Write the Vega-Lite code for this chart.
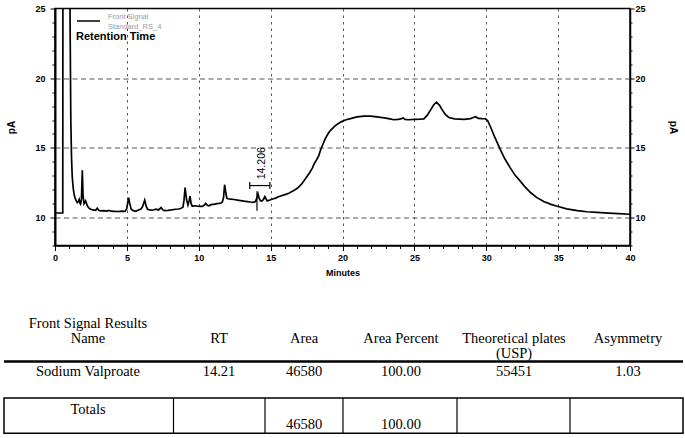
{
  "$schema": "https://vega.github.io/schema/vega-lite/v6.json",
  "autosize": {"type": "pad"},
  "padding": {"left": 2, "top": 3.5, "right": 0, "bottom": 0},
  "background": "white",
  "bounds": "flush",
  "spacing": 55,
  "config": {"view": {"stroke": null}, "font": "Liberation Sans"},
  "datasets": {
    "trace": [
      {"t": 0, "v": 10.33}, {"t": 0.54, "v": 10.33}, {"t": 0.56, "v": 40}, {"t": 0.98, "v": 40}, {"t": 1.05, "v": 24},
      {"t": 1.1, "v": 17}, {"t": 1.15, "v": 14.3}, {"t": 1.2, "v": 12.9}, {"t": 1.27, "v": 12.1}, {"t": 1.32, "v": 11.7},
      {"t": 1.4, "v": 11.4}, {"t": 1.48, "v": 11.2}, {"t": 1.55, "v": 11.08}, {"t": 1.62, "v": 11.15}, {"t": 1.68, "v": 11.3},
      {"t": 1.73, "v": 11.05}, {"t": 1.78, "v": 10.97}, {"t": 1.84, "v": 11.3}, {"t": 1.9, "v": 13.4}, {"t": 1.95, "v": 11.6},
      {"t": 2.02, "v": 11.0}, {"t": 2.08, "v": 11.1}, {"t": 2.13, "v": 11.2}, {"t": 2.2, "v": 11.0}, {"t": 2.25, "v": 10.85},
      {"t": 2.35, "v": 10.7}, {"t": 2.48, "v": 10.6}, {"t": 2.65, "v": 10.55}, {"t": 2.83, "v": 10.53}, {"t": 2.94, "v": 10.68},
      {"t": 3.05, "v": 10.52}, {"t": 3.17, "v": 10.48}, {"t": 3.4, "v": 10.5}, {"t": 3.6, "v": 10.47}, {"t": 3.75, "v": 10.52},
      {"t": 3.9, "v": 10.46}, {"t": 4.1, "v": 10.45}, {"t": 4.4, "v": 10.44}, {"t": 4.65, "v": 10.46}, {"t": 4.87, "v": 10.45},
      {"t": 4.98, "v": 10.6}, {"t": 5.05, "v": 11.0}, {"t": 5.12, "v": 11.44}, {"t": 5.2, "v": 11.0}, {"t": 5.3, "v": 10.6},
      {"t": 5.45, "v": 10.5}, {"t": 5.63, "v": 10.45}, {"t": 5.8, "v": 10.55}, {"t": 5.98, "v": 10.62}, {"t": 6.1, "v": 10.8},
      {"t": 6.24, "v": 11.25}, {"t": 6.35, "v": 10.8}, {"t": 6.44, "v": 10.6}, {"t": 6.6, "v": 10.55}, {"t": 6.79, "v": 10.53},
      {"t": 7.0, "v": 10.6}, {"t": 7.2, "v": 10.55}, {"t": 7.38, "v": 10.72}, {"t": 7.5, "v": 10.55}, {"t": 7.6, "v": 10.5},
      {"t": 7.85, "v": 10.52}, {"t": 8.1, "v": 10.55}, {"t": 8.4, "v": 10.6}, {"t": 8.6, "v": 10.62}, {"t": 8.74, "v": 10.65},
      {"t": 8.9, "v": 10.75}, {"t": 8.97, "v": 11.2}, {"t": 9.05, "v": 12.16}, {"t": 9.15, "v": 11.3}, {"t": 9.25, "v": 10.9},
      {"t": 9.33, "v": 11.2}, {"t": 9.39, "v": 11.55}, {"t": 9.47, "v": 11.0}, {"t": 9.55, "v": 10.82}, {"t": 9.7, "v": 10.85},
      {"t": 9.9, "v": 10.82}, {"t": 10.1, "v": 10.8}, {"t": 10.25, "v": 10.8}, {"t": 10.4, "v": 10.9}, {"t": 10.48, "v": 11.02},
      {"t": 10.6, "v": 10.88}, {"t": 10.71, "v": 10.85}, {"t": 10.9, "v": 10.95}, {"t": 11.06, "v": 10.95}, {"t": 11.25, "v": 11.0},
      {"t": 11.4, "v": 11.02}, {"t": 11.55, "v": 11.05}, {"t": 11.64, "v": 11.12}, {"t": 11.72, "v": 11.4}, {"t": 11.8, "v": 12.36},
      {"t": 11.88, "v": 11.8}, {"t": 11.95, "v": 11.4}, {"t": 12.03, "v": 11.35}, {"t": 12.2, "v": 11.32}, {"t": 12.45, "v": 11.3},
      {"t": 12.7, "v": 11.25}, {"t": 12.91, "v": 11.22}, {"t": 13.15, "v": 11.18}, {"t": 13.38, "v": 11.15}, {"t": 13.6, "v": 11.12},
      {"t": 13.8, "v": 11.1}, {"t": 13.95, "v": 11.15}, {"t": 14.05, "v": 11.45}, {"t": 14.12, "v": 11.7}, {"t": 14.2, "v": 11.4},
      {"t": 14.3, "v": 11.2}, {"t": 14.4, "v": 11.2}, {"t": 14.5, "v": 11.3}, {"t": 14.6, "v": 11.5}, {"t": 14.7, "v": 11.3},
      {"t": 14.77, "v": 11.2}, {"t": 14.9, "v": 11.25}, {"t": 15.05, "v": 11.3}, {"t": 15.2, "v": 11.35}, {"t": 15.35, "v": 11.4},
      {"t": 15.5, "v": 11.48}, {"t": 15.7, "v": 11.55}, {"t": 16.0, "v": 11.65}, {"t": 16.27, "v": 11.75}, {"t": 16.55, "v": 11.9},
      {"t": 16.86, "v": 12.1}, {"t": 17.15, "v": 12.4}, {"t": 17.43, "v": 12.8}, {"t": 17.7, "v": 13.2}, {"t": 17.9, "v": 13.55},
      {"t": 18.05, "v": 13.9}, {"t": 18.2, "v": 14.15}, {"t": 18.35, "v": 14.45}, {"t": 18.48, "v": 14.87}, {"t": 18.65, "v": 15.3},
      {"t": 18.82, "v": 15.7}, {"t": 19.05, "v": 16.1}, {"t": 19.2, "v": 16.3}, {"t": 19.5, "v": 16.6}, {"t": 19.87, "v": 16.85},
      {"t": 20.2, "v": 17.0}, {"t": 20.56, "v": 17.1}, {"t": 21.0, "v": 17.23}, {"t": 21.5, "v": 17.28}, {"t": 21.95, "v": 17.28},
      {"t": 22.4, "v": 17.22}, {"t": 22.9, "v": 17.15}, {"t": 23.3, "v": 17.08}, {"t": 23.57, "v": 17.02}, {"t": 23.9, "v": 17.04},
      {"t": 24.1, "v": 17.1}, {"t": 24.22, "v": 17.15}, {"t": 24.35, "v": 17.05}, {"t": 24.56, "v": 17.02}, {"t": 25.0, "v": 17.04},
      {"t": 25.4, "v": 17.06}, {"t": 25.66, "v": 17.08}, {"t": 25.9, "v": 17.35}, {"t": 26.13, "v": 17.73}, {"t": 26.35, "v": 18.1},
      {"t": 26.54, "v": 18.28}, {"t": 26.75, "v": 18.05}, {"t": 26.94, "v": 17.73}, {"t": 27.15, "v": 17.4}, {"t": 27.4, "v": 17.18},
      {"t": 27.8, "v": 17.08}, {"t": 28.45, "v": 17.05}, {"t": 28.9, "v": 17.1}, {"t": 29.1, "v": 17.18}, {"t": 29.26, "v": 17.24},
      {"t": 29.45, "v": 17.12}, {"t": 29.7, "v": 17.1}, {"t": 29.95, "v": 17.09}, {"t": 30.1, "v": 16.95}, {"t": 30.3, "v": 16.5},
      {"t": 30.6, "v": 15.75}, {"t": 30.97, "v": 14.9}, {"t": 31.3, "v": 14.2}, {"t": 31.67, "v": 13.57}, {"t": 32.0, "v": 13.05},
      {"t": 32.38, "v": 12.6}, {"t": 32.7, "v": 12.2}, {"t": 33.08, "v": 11.8}, {"t": 33.5, "v": 11.45}, {"t": 34.0, "v": 11.16},
      {"t": 34.5, "v": 10.95}, {"t": 35.0, "v": 10.8}, {"t": 35.6, "v": 10.63}, {"t": 36.33, "v": 10.5}, {"t": 37.0, "v": 10.42},
      {"t": 37.7, "v": 10.37}, {"t": 38.5, "v": 10.32}, {"t": 39.2, "v": 10.28}, {"t": 40, "v": 10.24}
    ],
    "marker": [{"t": 14.05, "v": 11.9, "v2": 10.5}],
    "bracket": [{"t": 13.55, "t2": 14.95, "v": 12.3}],
    "bracketEnds": [{"t": 13.55, "v": 12.05, "v2": 12.55}, {"t": 14.95, "v": 12.05, "v2": 12.55}],
    "peakLabel": [{"t": 14.38, "v": 13.9, "label": "14.206"}],
    "cells": [
      {"col": 0, "line": 0, "text": "Front Signal Results"},
      {"col": 0, "line": 1, "text": "Name"},
      {"col": 1, "line": 1, "text": "RT"},
      {"col": 2, "line": 1, "text": "Area"},
      {"col": 3, "line": 1, "text": "Area Percent"},
      {"col": 4, "line": 1, "text": "Theoretical plates"},
      {"col": 4, "line": 2, "text": "(USP)"},
      {"col": 5, "line": 1, "text": "Asymmetry"},
      {"col": 0, "line": 4, "text": "Sodium Valproate"},
      {"col": 1, "line": 4, "text": "14.21"},
      {"col": 2, "line": 4, "text": "46580"},
      {"col": 3, "line": 4, "text": "100.00"},
      {"col": 4, "line": 4, "text": "55451"},
      {"col": 5, "line": 4, "text": "1.03"},
      {"col": 0, "line": 6, "text": "Totals"},
      {"col": 2, "line": 7, "text": "46580"},
      {"col": 3, "line": 7, "text": "100.00"}
    ],
    "headerRule": [{"col": -0.5, "col2": 5.5, "line": 3}],
    "box": [{"col": -0.5, "col2": 5.5, "line": 5, "line2": 8}],
    "dividers": [
      {"col": 0.5, "line": 5, "line2": 8}, {"col": 1.5, "line": 5, "line2": 8}, {"col": 2.5, "line": 5, "line2": 8},
      {"col": 3.5, "line": 5, "line2": 8}, {"col": 4.5, "line": 5, "line2": 8}
    ]
  },
  "vconcat": [
    {
      "width": 575,
      "height": 237,
      "view": {"stroke": "black", "strokeWidth": 1.5},
      "encoding": {
        "x": {
          "field": "t", "type": "quantitative",
          "scale": {"domain": [0, 40], "nice": false, "zero": false},
          "axis": {
            "orient": "bottom",
            "values": [0,1,2,3,4,5,6,7,8,9,10,11,12,13,14,15,16,17,18,19,20,21,22,23,24,25,26,27,28,29,30,31,32,33,34,35,36,37,38,39,40],
            "labelExpr": "datum.value % 5 === 0 ? datum.label : ''",
            "labelOverlap": false, "labelFlush": false,
            "labelFont": "Liberation Sans", "labelFontSize": 9, "labelFontWeight": "bold", "labelColor": "black", "labelPadding": 3,
            "tickColor": "black",
            "tickSize": {"condition": {"test": "datum.value % 5 === 0", "value": 5}, "value": 3},
            "domainColor": "black", "domainWidth": 1.5,
            "grid": true, "gridColor": "#555555", "gridDash": [2.5, 4],
            "gridOpacity": {"condition": {"test": "datum.value % 5 === 0 && datum.value > 0 && datum.value < 40", "value": 1}, "value": 0},
            "title": "Minutes", "titleFont": "Liberation Sans", "titleFontSize": 9, "titleFontWeight": "bold", "titleColor": "black", "titlePadding": 6
          }
        },
        "y": {
          "field": "v", "type": "quantitative",
          "scale": {"domain": [8, 25], "nice": false, "zero": false},
          "axis": {
            "orient": "left",
            "values": [8,9,10,11,12,13,14,15,16,17,18,19,20,21,22,23,24,25],
            "labelExpr": "datum.value % 5 === 0 ? datum.label : ''",
            "labelOverlap": false, "labelFlush": false,
            "labelFont": "Liberation Sans", "labelFontSize": 9, "labelFontWeight": "bold", "labelColor": "black", "labelPadding": 5,
            "tickColor": "black",
            "tickSize": {"condition": {"test": "datum.value % 5 === 0", "value": 5}, "value": 3},
            "domainColor": "black", "domainWidth": 2,
            "grid": true, "gridColor": "#555555", "gridDash": [5, 3.5],
            "gridOpacity": {"condition": {"test": "datum.value % 5 === 0 && datum.value < 25", "value": 1}, "value": 0},
            "title": "pA", "titleFont": "Liberation Sans", "titleFontSize": 10, "titleFontWeight": "bold", "titleColor": "black", "titlePadding": 18
          }
        }
      },
      "layer": [
        {
          "data": {"name": "trace"},
          "mark": {"type": "line", "clip": true, "strokeWidth": 1.7},
          "encoding": {
            "color": {
              "datum": "Front Signal",
              "scale": {"range": ["black"]},
              "legend": {
                "orient": "none", "legendX": 21, "legendY": 0, "padding": 0,
                "title": "Retention Time", "titleOrient": "bottom", "titleAlign": "left", "titleAnchor": "start",
                "titleFont": "Liberation Sans", "titleFontSize": 11, "titleFontWeight": "bold", "titleColor": "black", "titlePadding": 0,
                "labelExpr": "['Front Signal', 'Standard_RS_4']",
                "labelBaseline": "bottom",
                "labelFont": "Liberation Sans", "labelFontSize": 7.5, "labelColor": "#9a9a9a", "labelLineHeight": 10, "labelOffset": 7,
                "symbolType": "stroke", "symbolSize": 529, "symbolStrokeWidth": 1.5, "symbolStrokeColor": "black"
              }
            }
          }
        },
        {
          "data": {"name": "marker"},
          "mark": {"type": "rule", "color": "black", "strokeWidth": 1.2},
          "encoding": {
            "y": {
              "field": "v", "type": "quantitative",
              "axis": {
                "orient": "right",
                "values": [8,9,10,11,12,13,14,15,16,17,18,19,20,21,22,23,24,25],
                "labelExpr": "datum.value % 5 === 0 ? datum.label : ''",
                "labelOverlap": false, "labelFlush": false,
                "labelFont": "Liberation Sans", "labelFontSize": 9, "labelFontWeight": "bold", "labelColor": "black", "labelPadding": 1,
                "tickColor": "black",
                "tickSize": {"condition": {"test": "datum.value % 5 === 0", "value": 4}, "value": 2},
                "domainColor": "black", "domainWidth": 1.5,
                "grid": false,
                "title": "pA", "titleFont": "Liberation Sans", "titleFontSize": 10, "titleFontWeight": "bold", "titleColor": "black", "titlePadding": 22
              }
            },
            "y2": {"field": "v2"}
          }
        },
        {
          "data": {"name": "bracket"},
          "mark": {"type": "rule", "color": "black", "strokeWidth": 1.2},
          "encoding": {
            "x2": {"field": "t2"},
            "y": {"field": "v", "type": "quantitative", "axis": null}
          }
        },
        {
          "data": {"name": "bracketEnds"},
          "mark": {"type": "rule", "color": "black", "strokeWidth": 1.2},
          "encoding": {
            "y": {"field": "v", "type": "quantitative", "axis": null},
            "y2": {"field": "v2"}
          }
        },
        {
          "data": {"name": "peakLabel"},
          "mark": {"type": "text", "angle": 270, "align": "center", "baseline": "middle", "font": "Liberation Sans", "fontSize": 10.5, "color": "black"},
          "encoding": {
            "y": {"field": "v", "type": "quantitative", "axis": null},
            "text": {"field": "label"}
          }
        }
      ],
      "resolve": {"axis": {"y": "independent"}}
    },
    {
      "width": 575,
      "height": 138,
      "view": {"stroke": null},
      "encoding": {
        "x": {
          "field": "col", "type": "quantitative", "axis": null,
          "scale": {"domain": [-0.5, 0, 0.5, 1, 1.5, 2, 2.5, 3, 3.5, 4, 4.5, 5, 5.5], "range": [-51, 33, 118.5, 164, 210, 249, 288, 346, 402, 459, 515, 573, 628], "nice": false, "zero": false}
        },
        "y": {
          "field": "line", "type": "quantitative", "axis": null,
          "scale": {"domain": [0, 1, 2, 3, 4, 5, 6, 7, 8], "range": [23.5, 38, 53, 61, 71.5, 97.5, 109, 124.5, 132.8], "nice": false, "zero": false}
        }
      },
      "layer": [
        {
          "data": {"name": "cells"},
          "mark": {"type": "text", "font": "Liberation Serif", "fontSize": 14.5, "color": "black", "align": "center", "baseline": "middle"},
          "encoding": {"text": {"field": "text"}}
        },
        {
          "data": {"name": "headerRule"},
          "mark": {"type": "rule", "color": "black", "strokeWidth": 2.5},
          "encoding": {"x2": {"field": "col2"}}
        },
        {
          "data": {"name": "box"},
          "mark": {"type": "rect", "filled": false, "color": "black", "strokeWidth": 1.5},
          "encoding": {"x2": {"field": "col2"}, "y2": {"field": "line2"}}
        },
        {
          "data": {"name": "dividers"},
          "mark": {"type": "rule", "color": "black", "strokeWidth": 1.2},
          "encoding": {"y2": {"field": "line2"}}
        }
      ]
    }
  ]
}
